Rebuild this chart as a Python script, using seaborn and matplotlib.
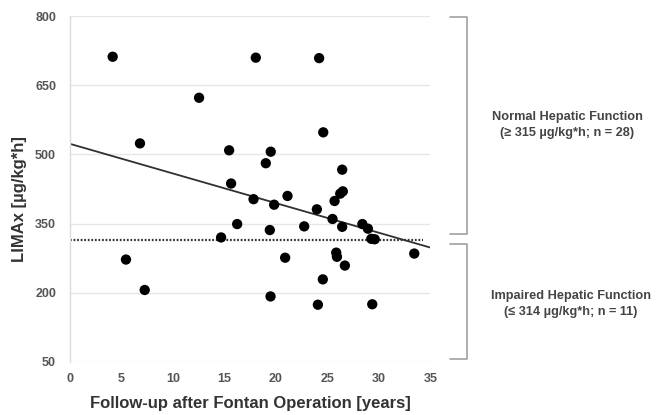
import matplotlib
matplotlib.use("Agg")
import matplotlib.pyplot as plt
import seaborn as sns
import numpy as np
import pandas as pd

# Data
follow_up_years = [4.15, 18.05, 24.2, 12.54, 24.6, 6.8, 15.46, 19.5, 19.02, 26.44,
                   15.65, 26.25, 26.5, 25.7, 17.83, 21.13, 19.83, 23.98, 25.5, 16.24,
                   22.75, 26.44, 19.41, 28.4, 28.94, 29.27, 29.6, 14.68, 33.44, 5.44,
                   20.9, 25.86, 25.93, 26.7, 24.56, 7.26, 19.48, 24.08, 29.36]
limax = [712, 710, 709, 623, 548, 524, 509, 506, 481, 467,
         437, 415, 420, 399, 403, 410, 391, 381, 360, 349,
         344, 343, 336, 349, 339, 317, 316, 320, 285, 272,
         276, 287, 278, 259, 229, 206, 192, 174, 175]
threshold = 315
x_ticks = [0, 5, 10, 15, 20, 25, 30, 35]
y_ticks = [50, 200, 350, 500, 650, 800]
normal_text = "Normal Hepatic Function\n(\u2265 315 \u00b5g/kg*h; n = 28)"
impaired_text = "Impaired Hepatic Function\n(\u2264 314 \u00b5g/kg*h; n = 11)"
normal_range = [327, 798]
impaired_range = [57, 306]

df = pd.DataFrame({"x": follow_up_years, "y": limax})

sns.set_theme(style="white")
plt.rcParams['font.family'] = ['Liberation Sans', 'DejaVu Sans']

fig = plt.figure(figsize=(6.6, 4.15), dpi=100)
ax = fig.add_axes([0.106, 0.128, 0.546, 0.833])
ax.set_xlim(0, 35)
ax.set_ylim(50, 800)

tc = "#555555"
for yv in y_ticks:
    ax.axhline(yv, color="#e6e6e6", lw=1.0, zorder=0)

sns.regplot(data=df, x="x", y="y", ax=ax, ci=None, truncate=False,
            scatter_kws=dict(s=55, color="black", edgecolor="none", zorder=3, alpha=1),
            line_kws=dict(color="#303030", lw=1.3, zorder=2))

ax.plot([0, 34.3], [threshold, threshold], color="#333333", lw=1.6,
        linestyle=(0, (0.8, 0.8)), zorder=2)

ax.set_xlim(0, 35)
ax.set_ylim(50, 800)
ax.set_xticks(x_ticks)
ax.set_yticks(y_ticks)
ax.tick_params(axis="x", length=0, labelsize=9, colors=tc, pad=8)
ax.tick_params(axis="y", length=0, labelsize=9, colors=tc, pad=10)
for lab in ax.get_xticklabels() + ax.get_yticklabels():
    lab.set_fontweight("bold")
for s in ["top", "right", "bottom"]:
    ax.spines[s].set_visible(False)
ax.spines["left"].set_color("#dcdcdc")
ax.spines["left"].set_linewidth(1.0)

ax.set_xlabel("Follow-up after Fontan Operation [years]", fontsize=12,
              fontweight="bold", color="#333333")
ax.set_ylabel("LIMAx [\u00b5g/kg*h]", fontsize=12, fontweight="bold",
              color="#333333")
ax.xaxis.label.set_va("center")
ax.xaxis.set_label_coords(0.5, -0.119)
ax.yaxis.label.set_va("center")
ax.yaxis.set_label_coords(-0.139, 0.47)

# Brackets
bx0, bx1 = 36.9, 38.6
for lo, hi in [normal_range, impaired_range]:
    ax.plot([bx0, bx1, bx1, bx0], [hi, hi, lo, lo], color="#a0a0a0", lw=1.2,
            clip_on=False, solid_joinstyle="round")

ax.text(567 / 660, 1 - 125 / 415, normal_text, transform=fig.transFigure, ha="center",
        va="center", fontsize=9.2, fontweight="bold", color="#444444", linespacing=1.5)
ax.text(571 / 660, 1 - 304 / 415, impaired_text, transform=fig.transFigure, ha="center",
        va="center", fontsize=9.2, fontweight="bold", color="#444444", linespacing=1.5)

fig.savefig("out.png", dpi=100)
